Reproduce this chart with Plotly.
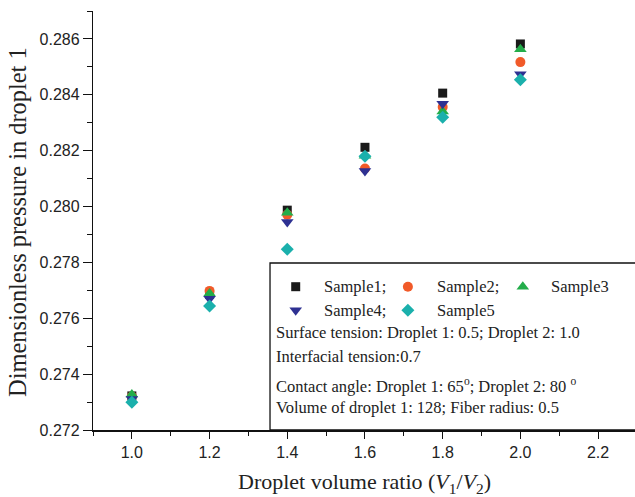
import plotly.graph_objects as go

ratios = [1.0, 1.2, 1.4, 1.6, 1.8, 2.0]
sample1 = [0.27322, 0.27686, 0.27987, 0.28212, 0.28406, 0.28582]
sample2 = [0.27320, 0.27698, 0.27971, 0.28136, 0.28356, 0.28517]
sample3 = [0.27327, 0.27689, 0.27978, 0.28182, 0.28340, 0.28563]
sample4 = [0.27311, 0.27670, 0.27945, 0.28127, 0.28368, 0.28474]
sample5 = [0.27299, 0.27644, 0.27847, 0.28180, 0.28320, 0.28454]

names = ["Sample1", "Sample2", "Sample3", "Sample4", "Sample5"]
series = [sample1, sample2, sample3, sample4, sample5]
colors = ["#1a1a1a", "#f15a29", "#23ad4a", "#2e3192", "#1bb0ac"]
symbols = ["square", "circle", "triangle-up", "triangle-down", "diamond"]
sizes = [9, 10, 11, 11, 10]

x_ticks = [1.0, 1.2, 1.4, 1.6, 1.8, 2.0, 2.2]
y_ticks = [0.272, 0.274, 0.276, 0.278, 0.280, 0.282, 0.284, 0.286]

fig = go.Figure()
for n, s, c, sym, sz in zip(names, series, colors, symbols, sizes):
    fig.add_trace(go.Scatter(x=ratios, y=s, mode="markers", name=n,
                             marker=dict(color=c, symbol=sym, size=sz, line=dict(width=0)),
                             showlegend=False))

# custom legend box markers on overlay axis
leg_x = [0.374, 0.581, 0.793, 0.374, 0.581]
leg_y = [0.342, 0.342, 0.342, 0.286, 0.286]
leg_txt_x = [0.422, 0.631, 0.841, 0.422, 0.631]
leg_labels = ["Sample1;", "Sample2;", "Sample3", "Sample4;", "Sample5"]
for i in range(5):
    fig.add_trace(go.Scatter(x=[leg_x[i]], y=[leg_y[i]], mode="markers", xaxis="x2", yaxis="y2",
                             marker=dict(color=colors[i], symbol=symbols[i], size=sizes[i], line=dict(width=0)),
                             showlegend=False, hoverinfo="skip"))

serif = "Liberation Serif, Times New Roman, serif"
sans = "Liberation Sans, Arial, sans-serif"

annotations = []
for i in range(5):
    annotations.append(dict(x=leg_txt_x[i], y=leg_y[i], xref="x2", yref="y2", text=leg_labels[i],
                            showarrow=False, xanchor="left", yanchor="middle",
                            font=dict(family=serif, size=16.5, color="#222")))
info_lines = [
    ("Surface tension: Droplet 1: 0.5; Droplet 2: 1.0", 0.232),
    ("Interfacial tension:0.7", 0.175),
    ("Contact angle: Droplet 1: 65<sup>o</sup>; Droplet 2: 80 <sup>o</sup>", 0.107),
    ("Volume of droplet 1: 128; Fiber radius: 0.5", 0.053),
]
for t, yy in info_lines:
    annotations.append(dict(x=0.334, y=yy, xref="x2", yref="y2", text=t, showarrow=False,
                            xanchor="left", yanchor="middle",
                            font=dict(family=serif, size=16.5, color="#222")))

annotations.append(dict(x=0.5, y=-0.127, xref="paper", yref="paper",
                        text="Droplet volume ratio (<i>V</i><sub>1</sub>/<i>V</i><sub>2</sub>)",
                        showarrow=False, xanchor="center", yanchor="middle",
                        font=dict(family=serif, size=22, color="#222")))
annotations.append(dict(x=-0.138, y=0.497, xref="paper", yref="paper",
                        text="Dimensionless pressure in droplet 1", textangle=-90,
                        showarrow=False, xanchor="center", yanchor="middle",
                        font=dict(family=serif, size=24.4, color="#222")))

fig.update_layout(
    width=635, height=497,
    margin=dict(l=93, r=0, t=11, b=67),
    plot_bgcolor="white", paper_bgcolor="white",
    showlegend=False,
    xaxis=dict(range=[0.9, 2.295], tickvals=x_ticks, ticktext=[f"{v:.1f}" for v in x_ticks],
               showgrid=False, zeroline=False, showline=True, linecolor="#111", linewidth=2,
               ticks="outside", ticklen=7, tickwidth=1.3, tickcolor="#111",
               minor=dict(dtick=0.1, tick0=0.9, ticks="outside", ticklen=4, tickcolor="#111", tickwidth=1.2),
               tickfont=dict(family=sans, size=16, color="#222")),
    yaxis=dict(range=[0.272, 0.287], tickvals=y_ticks, ticktext=[f"{v:.3f}" for v in y_ticks],
               showgrid=False, zeroline=False, showline=True, linecolor="#111", linewidth=1.3,
               ticks="outside", ticklen=9, tickwidth=1.3, tickcolor="#111",
               minor=dict(dtick=0.001, tick0=0.272, ticks="outside", ticklen=5, tickcolor="#111", tickwidth=1.2),
               tickfont=dict(family=sans, size=16, color="#222")),
    xaxis2=dict(overlaying="x", range=[0, 1], visible=False, fixedrange=True),
    yaxis2=dict(overlaying="y", range=[0, 1], visible=False, fixedrange=True),
    shapes=[dict(type="rect", xref="paper", yref="paper", x0=0.3266, x1=1.01, y0=0, y1=0.3986,
                 line=dict(color="#111", width=1.3), fillcolor="white", layer="below")],
    annotations=annotations,
)

fig.write_html("out.html")
